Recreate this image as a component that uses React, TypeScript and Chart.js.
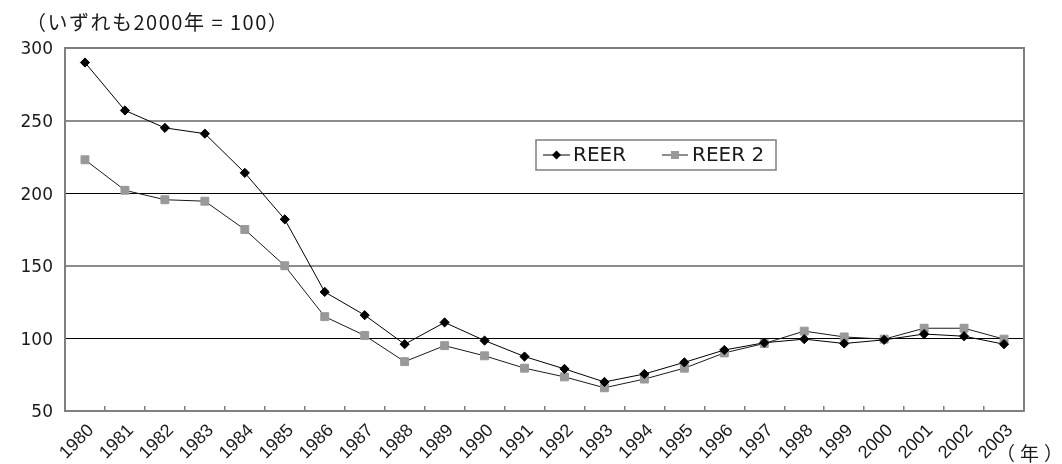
import React, { useEffect, useRef } from 'react';
import { Chart, registerables } from 'chart.js';

Chart.register(...registerables);

const years = [
  '1980', '1981', '1982', '1983', '1984', '1985', '1986', '1987', '1988', '1989', '1990', '1991',
  '1992', '1993', '1994', '1995', '1996', '1997', '1998', '1999', '2000', '2001', '2002', '2003',
];
const reer = [290, 257, 245, 241, 214, 182, 132, 116, 96, 111, 98.5, 87.5, 79, 70, 75.5, 83.5, 92, 97, 99.5, 96.5, 99, 103, 101.5, 96];
const reer2 = [223, 202, 195.5, 194.5, 175, 150, 115, 102, 84, 95, 88, 79.5, 73.5, 66, 72, 79.5, 90, 96.5, 105, 101, 99.5, 107, 107, 99.5];
const seriesNames = ['REER', 'REER 2'];
const yMin = 50;
const yMax = 300;
const yStep = 50;
const titleText = '（いずれも2000年 = 100）';
const unitText = '（年）';

const FONT = '"DejaVu Sans", "Noto Sans CJK JP", sans-serif';
const XFONT = '"Liberation Sans", Arial, sans-serif';
const JFONT = '"Noto Sans CJK JP", sans-serif';
const TEXT = '#1a1a1a';
const FRAME = '#7f7f7f';

function setSpacing(ctx: any, v: string) {
  try {
    ctx.letterSpacing = v;
  } catch (e) {
    /* ignore */
  }
}

const decorPlugin = {
  id: 'decor',
  afterDraw(chart: any) {
    const { ctx, chartArea: a } = chart;
    ctx.save();
    // top and right frame
    ctx.strokeStyle = FRAME;
    ctx.lineWidth = 2;
    ctx.beginPath();
    ctx.moveTo(a.left, a.top);
    ctx.lineTo(a.right, a.top);
    ctx.lineTo(a.right, a.bottom);
    ctx.stroke();

    // texts
    ctx.fillStyle = TEXT;
    ctx.textBaseline = 'middle';
    ctx.textAlign = 'left';
    ctx.font = `20px ${JFONT}`;
    setSpacing(ctx, '1.5px');
    ctx.fillText(titleText, 26, 22);
    ctx.font = `19px ${JFONT}`;
    setSpacing(ctx, '5px');
    ctx.fillText(unitText, 996, 454);
    setSpacing(ctx, '0px');

    // legend box
    const bx = 536, by = 140, bw = 240, bh = 30;
    ctx.fillStyle = '#ffffff';
    ctx.fillRect(bx, by, bw, bh);
    ctx.strokeStyle = FRAME;
    ctx.lineWidth = 1.5;
    ctx.strokeRect(bx, by, bw, bh);
    const cy = by + bh / 2;
    const ds = chart.data.datasets;
    // item 1
    ctx.strokeStyle = ds[0].borderColor;
    ctx.lineWidth = 1;
    ctx.beginPath();
    ctx.moveTo(543, cy);
    ctx.lineTo(570, cy);
    ctx.stroke();
    ctx.fillStyle = ds[0].pointBackgroundColor;
    ctx.beginPath();
    ctx.moveTo(556.5, cy - 4.5);
    ctx.lineTo(561, cy);
    ctx.lineTo(556.5, cy + 4.5);
    ctx.lineTo(552, cy);
    ctx.closePath();
    ctx.fill();
    // item 2
    ctx.strokeStyle = ds[1].borderColor;
    ctx.beginPath();
    ctx.moveTo(662, cy);
    ctx.lineTo(688, cy);
    ctx.stroke();
    ctx.fillStyle = ds[1].pointBackgroundColor;
    ctx.fillRect(671, cy - 4, 8, 8);

    ctx.fillStyle = TEXT;
    ctx.font = `20px ${FONT}`;
    ctx.fillText(ds[0].label, 573, cy + 1);
    ctx.fillText(ds[1].label, 692, cy + 1);
    ctx.restore();
  },
};

export default function App() {
  const canvasRef = useRef<HTMLCanvasElement | null>(null);

  useEffect(() => {
    if (!canvasRef.current) return;
    const chart = new Chart(canvasRef.current, {
      type: 'line',
      data: {
        labels: years,
        datasets: [
          {
            label: seriesNames[0],
            data: reer,
            borderColor: '#000000',
            borderWidth: 1,
            pointStyle: 'rectRot',
            pointRadius: 4.6,
            pointBackgroundColor: '#000000',
            pointBorderColor: '#000000',
            pointBorderWidth: 1,
            tension: 0,
          },
          {
            label: seriesNames[1],
            data: reer2,
            borderColor: '#1a1a1a',
            borderWidth: 1,
            pointStyle: 'rect',
            pointRadius: 5.6,
            pointBackgroundColor: '#999999',
            pointBorderColor: '#999999',
            pointBorderWidth: 1,
            tension: 0,
          },
        ],
      },
      options: {
        animation: false,
        responsive: true,
        maintainAspectRatio: false,
        layout: { padding: { top: 48, right: 38, bottom: 0, left: 0 } },
        plugins: {
          legend: { display: false },
          tooltip: { enabled: false },
          title: { display: false },
        },
        scales: {
          x: {
            type: 'category',
            offset: true,
            grid: {
              offset: true,
              drawOnChartArea: false,
              drawTicks: true,
              tickLength: -5,
              color: FRAME,
              lineWidth: 1.5,
            },
            border: { color: FRAME, width: 2 },
            ticks: {
              autoSkip: false,
              maxRotation: 45,
              minRotation: 45,
              padding: 14,
              labelOffset: 6,
              color: TEXT,
              font: { family: XFONT, size: 18 },
            },
            afterFit(scale: any) {
              scale.height = 53;
            },
          },
          y: {
            min: yMin,
            max: yMax,
            ticks: {
              stepSize: yStep,
              padding: 12,
              labelOffset: 2,
              color: TEXT,
              font: { family: FONT, size: 17 },
            },
            grid: {
              drawTicks: false,
              color: (c: any) => {
                const v = c.tick && c.tick.value;
                if (v === 300 || v === 50) return FRAME;
                if (v === 250 || v === 150) return '#8c8c8c';
                return '#000000';
              },
              lineWidth: (c: any) => {
                const v = c.tick && c.tick.value;
                if (v === 250 || v === 150) return 2;
                return 1;
              },
            },
            border: { color: FRAME, width: 2 },
            afterFit(scale: any) {
              scale.width = 65;
            },
          },
        },
      },
      plugins: [decorPlugin],
    });
    return () => chart.destroy();
  }, []);

  return (
    <div style={{ position: 'fixed', left: 0, top: 0, width: 1062, height: 464, background: '#fff' }}>
      <canvas ref={canvasRef} />
    </div>
  );
}
